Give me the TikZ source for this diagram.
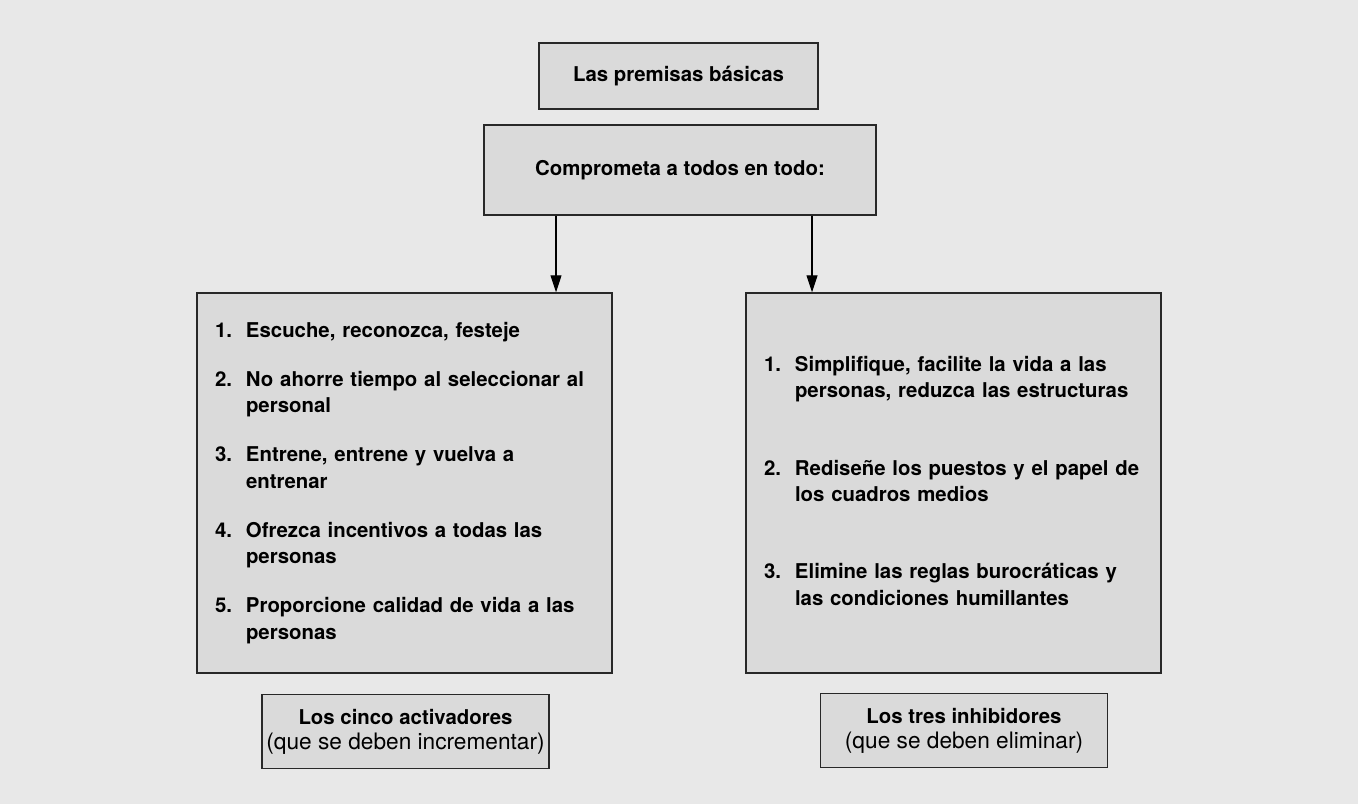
\documentclass[tikz,border=0pt]{standalone}
\usepackage{fontspec}
\setmainfont{TeX Gyre Heros}
\usetikzlibrary{arrows.meta,positioning}

\definecolor{pagegray}{RGB}{232,232,232}
\definecolor{boxgray}{RGB}{218,218,218}
\definecolor{edgegray}{RGB}{40,40,40}

\begin{document}
\begin{tikzpicture}[
  box/.style={draw=edgegray, line width=0.8pt, fill=boxgray, align=center, inner sep=0pt, font=\fontsize{11.6}{15.1}\selectfont\bfseries},
  titlebox/.style={box, minimum width=5.58cm, minimum height=1.32cm},
  mainbox/.style={box, minimum width=7.84cm, minimum height=1.8cm},
  listbox/.style={box, text width=7.58cm, inner xsep=0.36cm, minimum height=7.6cm, align=left},
  tagbox/.style={box, minimum width=5.74cm, minimum height=1.48cm},
  arr/.style={-{Triangle[length=0.34cm,width=0.22cm]}, line width=0.6pt}
]
\fill[pagegray] (0,0) rectangle (27.16,16.08);
\useasboundingbox (0,0) rectangle (27.16,16.08);

\node[titlebox] (premisas) at (13.57,14.56) {Las premisas básicas};
\node[mainbox] (comp) at (13.6,12.68) {Comprometa a todos en todo:};

\node[listbox] (activ) at (8.09,6.42) {%
  \begin{tabular}{@{}p{0.62cm}@{}l@{}}
  1. & Escuche, reconozca, festeje\\[0.45cm]
  2. & No ahorre tiempo al seleccionar al\\
     & personal\\[0.45cm]
  3. & Entrene, entrene y vuelva a\\
     & entrenar\\[0.45cm]
  4. & Ofrezca incentivos a todas las\\
     & personas\\[0.45cm]
  5. & Proporcione calidad de vida a las\\
     & personas
  \end{tabular}};
\node[listbox] (inhib) at (19.07,6.42) {%
  \begin{tabular}{@{}p{0.62cm}@{}l@{}}
  1. & Simplifique, facilite la vida a las\\
     & personas, reduzca las estructuras\\[1.01cm]
  2. & Rediseñe los puestos y el papel de\\
     & los cuadros medios\\[1.01cm]
  3. & Elimine las reglas burocráticas y\\
     & las condiciones humillantes
  \end{tabular}};

\node[tagbox] (activlbl) at (8.11,1.45) {Los cinco activadores\\[-1pt]{\fontsize{12.9}{15}\selectfont\mdseries (que se deben incrementar)}};
\node[tagbox] (inhiblbl) at (19.28,1.47) {Los tres inhibidores\\[-1pt]{\fontsize{12.9}{15}\selectfont\mdseries (que se deben eliminar)}};

\draw[arr] ([xshift=-2.48cm]comp.south) -- ([xshift=-2.48cm]comp.south |- activ.north);
\draw[arr] ([xshift=2.64cm]comp.south) -- ([xshift=2.64cm]comp.south |- inhib.north);
\end{tikzpicture}
\end{document}
